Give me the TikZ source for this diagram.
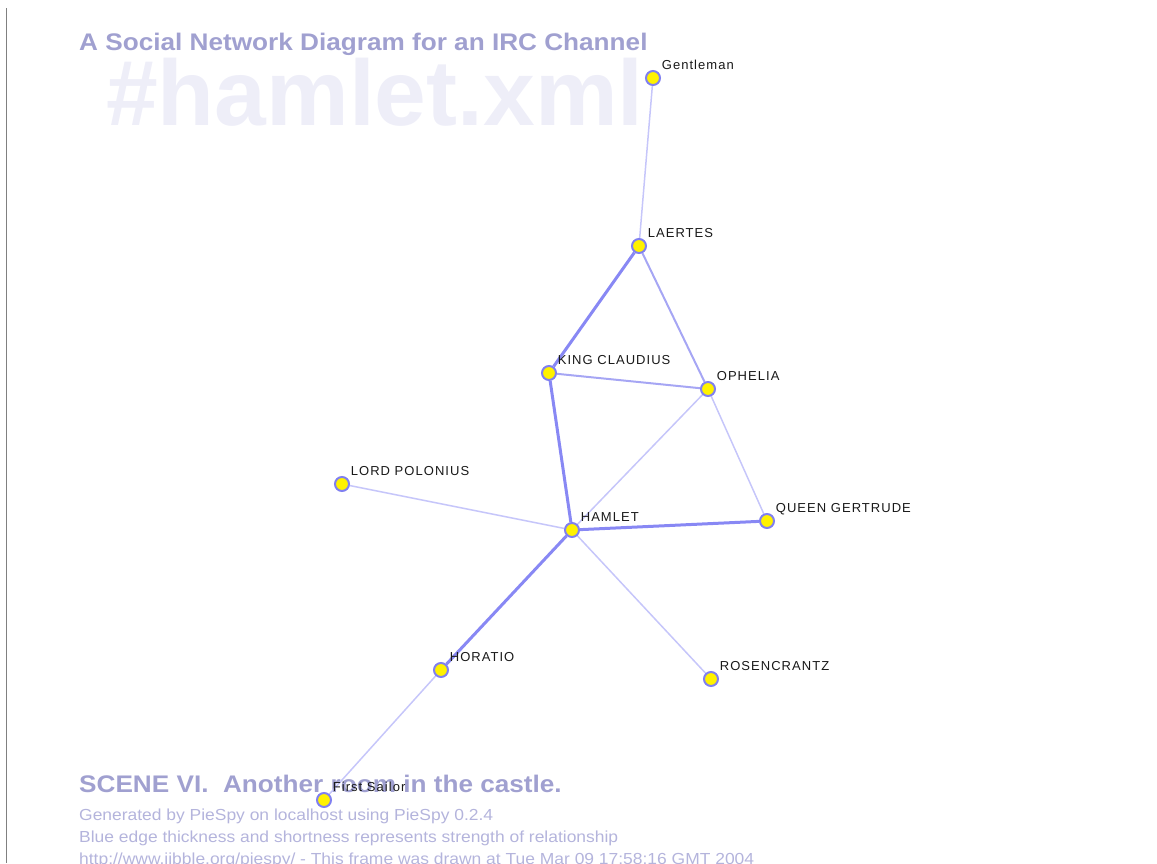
\documentclass[tikz,border=0pt]{standalone}
\usepackage{fontspec}
\setmainfont{Liberation Sans}
\newfontfamily\lblfont[LetterSpace=8]{Liberation Sans}
\newfontfamily\headfont[FakeStretch=1.09]{Liberation Sans}
\usepackage{tikz}
\pgfdeclarelayer{back}
\pgfdeclarelayer{edges}
\pgfsetlayers{back,edges,main}
\definecolor{ttl}{RGB}{160,160,208}
\definecolor{wmark}{RGB}{238,238,248}
\definecolor{info}{RGB}{180,180,220}
\definecolor{ring}{RGB}{128,128,240}
\definecolor{strong}{RGB}{136,136,244}
\definecolor{medium}{RGB}{166,166,244}
\definecolor{weak}{RGB}{198,198,250}
\tikzstyle{person} = [circle, minimum size=14pt, inner sep=0pt, fill=yellow, draw=ring, line width=2pt]
\tikzstyle{lbl} = [anchor=base west, inner sep=0pt, xshift=3pt, yshift=3pt, text=black!90, font=\lblfont\fontsize{13}{15}\selectfont]
\tikzstyle{bigtext} = [anchor=base west, inner sep=0pt, text=ttl, font=\headfont\bfseries\fontsize{24}{28}\selectfont]
\tikzstyle{smalltext} = [anchor=base west, inner sep=0pt, text=info, font=\headfont\fontsize{16}{19}\selectfont]
\tikzstyle{tie1} = [line width=3pt, strong]
\tikzstyle{tie2} = [line width=2pt, medium]
\tikzstyle{tie3} = [line width=1.5pt, weak]

\begin{document}
\begin{tikzpicture}[x=1pt, y=-1pt]
  \useasboundingbox (0,0) rectangle (1157,863);

  % headings
  \begin{pgfonlayer}{back}
  \draw [line width=1.5pt, gray] (6.5,8) -- (6.5,863);
  \node (mark) [anchor=base west, inner sep=0pt, text=wmark, font=\bfseries\fontsize{93}{100}\selectfont] at (106,125) {\#hamlet.xml};
  \node (title) [bigtext] at (79,50) {A Social Network Diagram for an IRC Channel};
  \node (scene) [bigtext] at (79,792) {SCENE VI.\ \ Another room in the castle.};
  \node (gen) [smalltext] at (79,820) {Generated by PieSpy on localhost using PieSpy 0.2.4};
  \node (blue) [smalltext] at (79,842) {Blue edge thickness and shortness represents strength of relationship};
  \node (url) [smalltext] at (79,864) {http://www.jibble.org/piespy/ - This frame was drawn at Tue Mar 09 17:58:16 GMT 2004};
  \end{pgfonlayer}

  % characters
  \node (gent) [person, label={[lbl]45:Gentleman}] at (653,78) {};
  \node (laer) [person, label={[lbl]45:LAERTES}] at (639,246) {};
  \node (king) [person, label={[lbl]45:KING CLAUDIUS}] at (549,373) {};
  \node (oph) [person, label={[lbl]45:OPHELIA}] at (708,389) {};
  \node (pol) [person, label={[lbl]45:LORD POLONIUS}] at (342,484) {};
  \node (ham) [person, label={[lbl]45:HAMLET}] at (572,530) {};
  \node (queen) [person, label={[lbl]45:QUEEN GERTRUDE}] at (767,521) {};
  \node (hor) [person, label={[lbl]45:HORATIO}] at (441,670) {};
  \node (ros) [person, label={[lbl]45:ROSENCRANTZ}] at (711,679) {};
  \node (sail) [person, label={[lbl]45:First Sailor}] at (324,800) {};

  % relationships
  \begin{pgfonlayer}{edges}
  \draw [tie3] (gent) -- (laer);
  \draw [tie1] (laer) -- (king);
  \draw [tie2] (laer) -- (oph);
  \draw [tie2] (king) -- (oph);
  \draw [tie1] (king) -- (ham);
  \draw [tie3] (oph) -- (ham);
  \draw [tie3] (oph) -- (queen);
  \draw [tie3] (pol) -- (ham);
  \draw [tie1] (ham) -- (queen);
  \draw [tie1] (ham) -- (hor);
  \draw [tie3] (ham) -- (ros);
  \draw [tie3] (hor) -- (sail);
  \end{pgfonlayer}
\end{tikzpicture}
\end{document}
